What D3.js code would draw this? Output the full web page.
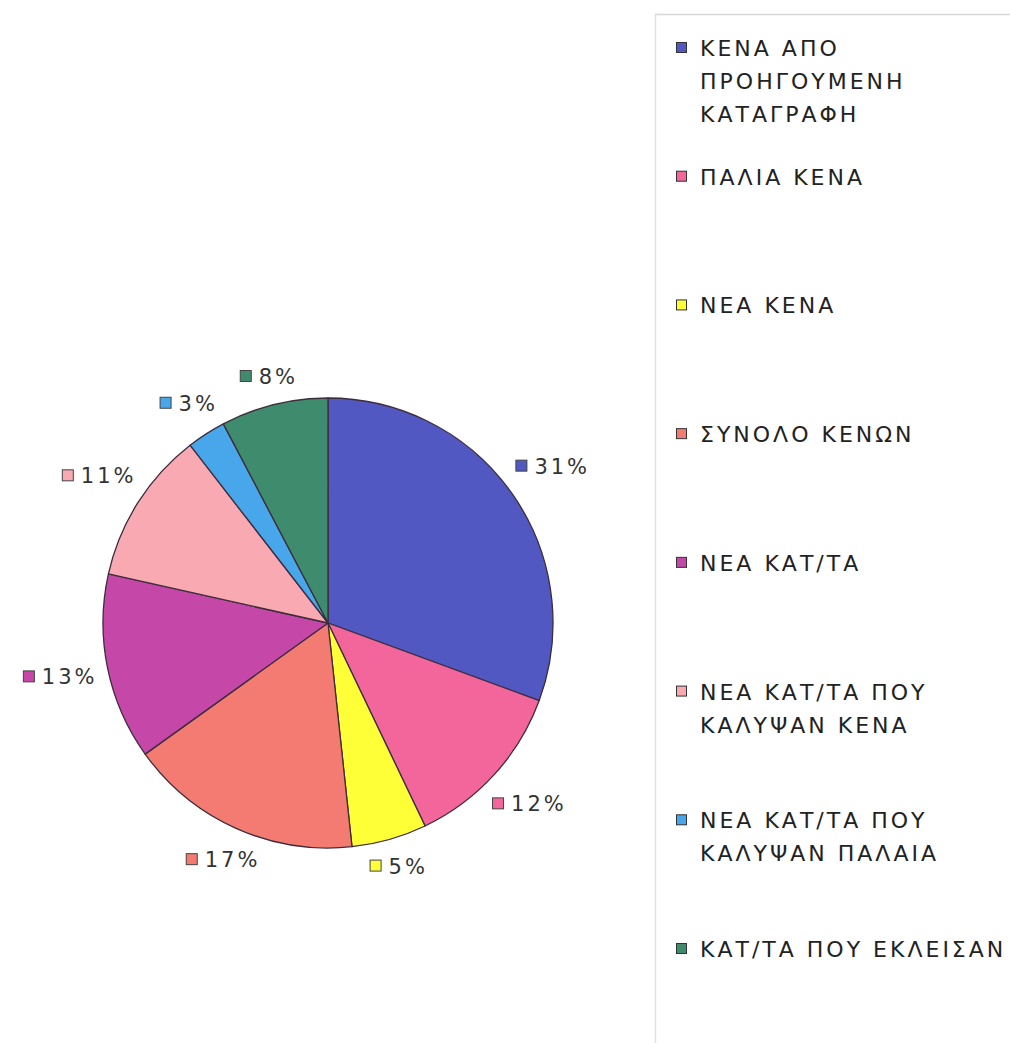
<!DOCTYPE html>
<html>
<head>
<meta charset="utf-8">
<script src="https://cdn.jsdelivr.net/npm/d3@7"></script>
<style>
  html, body { margin: 0; padding: 0; background: #fff; }
  svg { display: block; }
  text { font-family: "DejaVu Sans", Verdana, sans-serif; }
</style>
</head>
<body>
<svg id="chart" width="1010" height="1043"></svg>
<script>
// ---- data ----
const categories = [
  ["ΚΕΝΑ ΑΠΟ", "ΠΡΟΗΓΟΥΜΕΝΗ", "ΚΑΤΑΓΡΑΦΗ"],
  ["ΠΑΛΙΑ ΚΕΝΑ"],
  ["ΝΕΑ ΚΕΝΑ"],
  ["ΣΥΝΟΛΟ ΚΕΝΩΝ"],
  ["ΝΕΑ ΚΑΤ/ΤΑ"],
  ["ΝΕΑ ΚΑΤ/ΤΑ ΠΟΥ", "ΚΑΛΥΨΑΝ ΚΕΝΑ"],
  ["ΝΕΑ ΚΑΤ/ΤΑ ΠΟΥ", "ΚΑΛΥΨΑΝ ΠΑΛΑΙΑ"],
  ["ΚΑΤ/ΤΑ ΠΟΥ ΕΚΛΕΙΣΑΝ"]
];
const values = [30.6, 12.3, 5.4, 16.8, 13.4, 11.0, 2.8, 7.7];
const percentLabels = ["31%", "12%", "5%", "17%", "13%", "11%", "3%", "8%"];
const colors = ["#5158C2", "#F2669C", "#FFFF38", "#F47B72", "#C548A9", "#F9A9B2", "#48A7EA", "#3F8B6D"];

// ---- layout ----
const svg = d3.select("#chart");
const cx = 328, cy = 623, R = 225;

// legend panel borders
svg.append("line").attr("x1", 655.5).attr("x2", 655.5).attr("y1", 14).attr("y2", 1043)
  .attr("stroke", "#e2e2e2").attr("stroke-width", 1.5);
svg.append("line").attr("x1", 655).attr("x2", 1010).attr("y1", 14.5).attr("y2", 14.5)
  .attr("stroke", "#d8d8d8").attr("stroke-width", 1.5);

// pie
const pie = d3.pie().value(d => d).sort(null);
const arcs = pie(values);
const arc = d3.arc().innerRadius(0).outerRadius(R);

const g = svg.append("g").attr("transform", `translate(${cx},${cy})`);
g.selectAll("path.slice").data(arcs).join("path")
  .attr("class", "slice")
  .attr("d", arc)
  .attr("fill", (d, i) => colors[i])
  .attr("stroke", "#3d2d3d")
  .attr("stroke-width", 1.3)
  .attr("stroke-linejoin", "round");

// percentage labels
const labelFont = 21, ls = 3, sq = 12, gap = 7, offset = 13;
arcs.forEach((d, i) => {
  const lg = g.append("g");
  const t = lg.append("text")
    .attr("x", sq + gap)
    .attr("y", 0)
    .attr("font-size", labelFont)
    .attr("letter-spacing", ls)
    .attr("fill", "#333")
    .text(percentLabels[i]);
  const tw = t.node().getComputedTextLength();
  lg.append("rect")
    .attr("x", 0.5).attr("y", -13.5)
    .attr("width", sq - 1).attr("height", sq - 1)
    .attr("fill", colors[i]).attr("stroke", "#444").attr("stroke-width", 1);
  const w = sq + gap + tw - ls, h = 17;
  const a = (d.startAngle + d.endAngle) / 2;
  const dx = Math.sin(a), dy = -Math.cos(a);
  const support = Math.abs(dx) * w / 2 + Math.abs(dy) * h / 2;
  const dist = R + offset + support;
  const lx = dx * dist - w / 2, ly = dy * dist + h / 2 - 2;
  lg.attr("transform", `translate(${lx},${ly})`);
});

// legend
const legY = d3.scaleLinear().domain([0, categories.length - 1]).range([56, 957]);
const lineH = 33;
const leg = svg.append("g");
categories.forEach((lines, i) => {
  const y0 = legY(i);
  leg.append("rect")
    .attr("x", 676.5).attr("y", y0 - 13.5)
    .attr("width", 10).attr("height", 10)
    .attr("fill", colors[i]).attr("stroke", "#333").attr("stroke-width", 1);
  lines.forEach((ln, j) => {
    leg.append("text")
      .attr("x", 700)
      .attr("y", y0 + j * lineH)
      .attr("font-size", 22)
      .attr("letter-spacing", 3)
      .attr("fill", "#222")
      .text(ln);
  });
});
</script>
</body>
</html>
